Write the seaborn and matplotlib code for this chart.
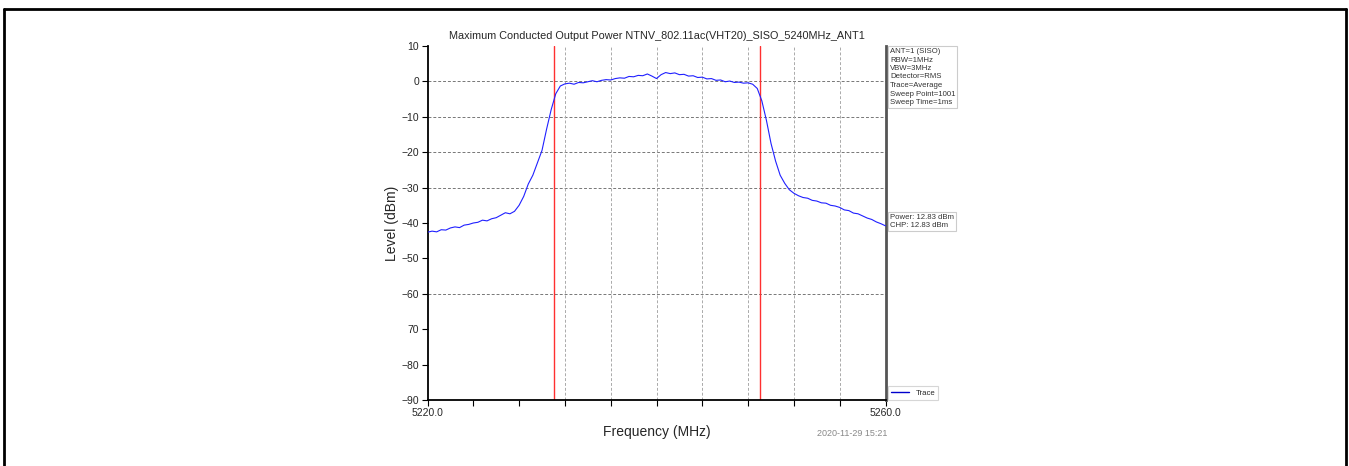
import numpy as np
import pandas as pd
import matplotlib
matplotlib.use("Agg")
import matplotlib.pyplot as plt
import seaborn as sns
from matplotlib.lines import Line2D

# ---- data ----
freq_start = 5220.0
freq_step = 0.4
levels = [
    -42.6, -42.3, -42.5, -41.9, -42.0, -41.4, -41.1, -41.3, -40.6, -40.4,
    -40.0, -39.8, -39.2, -39.4, -38.8, -38.5, -37.8, -37.1, -37.4, -36.7,
    -35.0, -32.5, -29.0, -26.5, -23.0, -19.5, -13.5, -8.0, -3.5, -1.3,
    -0.7, -0.5, -0.8, -0.3, -0.4, -0.1, 0.2, -0.1, 0.3, 0.5,
    0.4, 0.8, 1.0, 0.9, 1.4, 1.3, 1.7, 1.6, 2.1, 1.5,
    0.8, 1.9, 2.5, 2.2, 2.4, 1.9, 2.0, 1.5, 1.6, 1.1,
    1.2, 0.7, 0.8, 0.3, 0.4, -0.1, 0.1, -0.3, -0.2, -0.5,
    -0.4, -0.8, -2.0, -5.5, -11.0, -17.5, -22.5, -26.5, -28.8, -30.6,
    -31.6, -32.3, -32.8, -33.0, -33.6, -33.8, -34.3, -34.4, -35.0, -35.2,
    -35.6, -36.3, -36.5, -37.2, -37.4, -38.0, -38.6, -39.0, -39.7, -40.2,
    -40.8,
]
freqs = [round(freq_start + i * freq_step, 1) for i in range(len(levels))]

marker_freqs = [5231.06, 5249.04]
x_ticks = [5220, 5224, 5228, 5232, 5236, 5240, 5244, 5248, 5252, 5256, 5260]
x_tick_labels = ["5220.0", "", "", "", "", "", "", "", "", "", "5260.0"]
x_grid = [5232, 5236, 5240, 5244, 5248, 5252, 5256]
y_ticks = [10, 0, -10, -20, -30, -40, -50, -60, -70, -80, -90]
y_tick_labels = ["10", "0", "\u221210", "\u221220", "\u221230", "\u221240", "\u221250",
                 "\u221260", "70", "\u221280", "\u221290"]
y_grid = [0, -10, -20, -30, -60]

title = "Maximum Conducted Output Power NTNV_802.11ac(VHT20)_SISO_5240MHz_ANT1"
settings_lines = ["ANT=1 (SISO)", "RBW=1MHz", "VBW=3MHz", "Detector=RMS",
                  "Trace=Average", "Sweep Point=1001", "Sweep Time=1ms"]
power_lines = ["Power: 12.83 dBm", "CHP: 12.83 dBm"]
timestamp = "2020-11-29 15:21"

df = pd.DataFrame({"Frequency": freqs, "Level": levels})

# ---- figure ----
sns.set_style("white")
plt.rcParams["font.family"] = ["Liberation Sans", "DejaVu Sans"]

W, H = 1349, 466
fig = plt.figure(figsize=(W / 100, H / 100), dpi=100)
ax = fig.add_axes([427.5 / W, 1 - 400 / H, (885.5 - 427.5) / W, (400 - 46) / H])

for yg in y_grid:
    ax.axhline(yg, color="#777777", lw=0.7, ls=(0, (3, 2)), zorder=1)
for xg in x_grid:
    ax.axvline(xg, color="#aaaaaa", lw=0.7, ls=(0, (3, 2)), zorder=1)

sns.lineplot(data=df, x="Frequency", y="Level", ax=ax, color="#2020ff",
             lw=0.8, zorder=3, legend=False)

for mf in marker_freqs:
    ax.axvline(mf, color="#ff3030", lw=1.0, zorder=2)

ax.set_xlim(5220, 5260)
ax.set_ylim(-90, 10)
ax.set_xticks(x_ticks)
ax.set_xticklabels(x_tick_labels, fontsize=7.5)
ax.set_yticks(y_ticks)
ax.set_yticklabels(y_tick_labels, fontsize=7.5)
ax.tick_params(axis="both", direction="out", length=4, width=0.8, color="black",
               pad=2, bottom=True, left=True)

ax.spines["top"].set_visible(False)
ax.spines["left"].set_color("black")
ax.spines["left"].set_linewidth(1.3)
ax.spines["bottom"].set_color("black")
ax.spines["bottom"].set_linewidth(1.3)
ax.spines["right"].set_color("#555555")
ax.spines["right"].set_linewidth(2.0)

ax.set_xlabel("Frequency (MHz)", fontsize=10, labelpad=5)
ax.set_ylabel("Level (dBm)", fontsize=10, labelpad=2)
ax.set_title(title, fontsize=7.8, pad=5)

box_style = dict(boxstyle="square,pad=0.25", facecolor="white", edgecolor="#cccccc", lw=0.8)
fig.text(890 / W, 1 - 48 / H, "\n".join(settings_lines), fontsize=5.6, color="#333333",
         va="top", ha="left", linespacing=1.3, bbox=box_style)
fig.text(890 / W, 1 - 214 / H, "\n".join(power_lines), fontsize=5.6, color="#333333",
         va="top", ha="left", linespacing=1.3, bbox=box_style)

handle = Line2D([], [], color="#0000cc", lw=1.0)
leg = ax.legend([handle], ["Trace"], loc="lower left", bbox_to_anchor=(1.006, 0.0),
                fontsize=5.6, frameon=True, fancybox=False, handlelength=2.3,
                borderpad=0.4, borderaxespad=0.0)
leg.get_frame().set_edgecolor("#cccccc")
leg.get_frame().set_linewidth(0.8)

fig.text(852 / W, 1 - 433 / H, timestamp, fontsize=6.5, color="#888888",
         ha="center", va="center")

# outer page frame
fig.add_artist(Line2D([3.5 / W, 3.5 / W], [0, 1 - 8.5 / H], color="black", lw=2.0,
                      transform=fig.transFigure))
fig.add_artist(Line2D([3.5 / W, 1345.5 / W], [1 - 8.5 / H, 1 - 8.5 / H], color="black",
                      lw=2.0, transform=fig.transFigure))
fig.add_artist(Line2D([1345.5 / W, 1345.5 / W], [0, 1 - 8.5 / H], color="black", lw=2.0,
                      transform=fig.transFigure))

fig.savefig("out.png", dpi=100)
